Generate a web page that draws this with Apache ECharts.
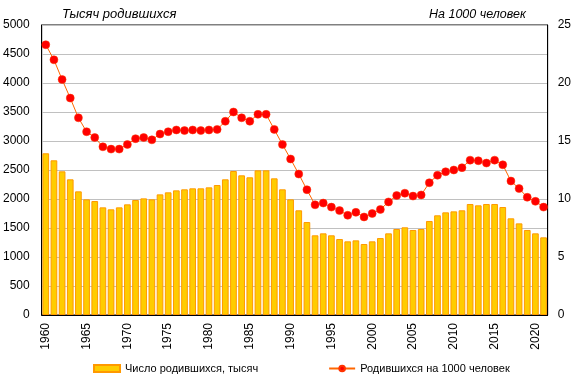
<!DOCTYPE html>
<html><head><meta charset="utf-8">
<script src="https://cdn.jsdelivr.net/npm/echarts@6/dist/echarts.min.js"></script>
<style>html,body{margin:0;padding:0;background:#fff}#c{width:574px;height:391px}</style>
</head><body><div id="c"></div>
<script>
var years = [];
for (var y = 1960; y <= 2021; y++) years.push(String(y));
var births = [2788,2667,2477,2339,2132,1994,1965,1856,1822,1856,
  1908,1983,2011,1994,2080,2115,2149,2167,2184,2184,
  2201,2241,2339,2483,2408,2374,2494,2494,2356,2167,
  1994,1805,1603,1374,1408,1374,1310,1270,1287,1224,
  1270,1327,1408,1483,1512,1466,1483,1621,1719,1770,
  1787,1805,1914,1891,1914,1914,1862,1667,1580,1466,
  1408,1339];
var rate = [23.3,22.0,20.3,18.7,17.0,15.8,15.3,14.5,14.3,14.3,
  14.7,15.2,15.3,15.1,15.6,15.8,15.95,15.9,15.95,15.9,
  15.95,16.0,16.7,17.5,17.0,16.7,17.3,17.3,16.0,14.7,
  13.45,12.15,10.8,9.5,9.65,9.3,9.0,8.6,8.85,8.45,
  8.75,9.1,9.75,10.3,10.5,10.25,10.35,11.4,12.05,12.35,
  12.5,12.7,13.35,13.3,13.1,13.35,12.95,11.55,10.9,10.15,
  9.8,9.3];
var leftTicks = [0,500,1000,1500,2000,2500,3000,3500,4000,4500,5000];
var rightTicks = [0,5,10,15,20,25];
var font = 'Arial, "Liberation Sans", sans-serif';
var chart = echarts.init(document.getElementById('c'), null, {renderer:'canvas'});
chart.setOption({
  animation:false,
  backgroundColor:'#fff',
  textStyle:{fontFamily:font},
  title:[
    {text:'Тысяч родившихся', left:57, top:3, textStyle:{fontSize:13, fontStyle:'italic', fontWeight:'normal', color:'#000', fontFamily:font}},
    {text:'На 1000 человек', left:424, top:3, textStyle:{fontSize:12.5, fontStyle:'italic', fontWeight:'normal', color:'#000', fontFamily:font}}
  ],
  grid:{left:40, right:26, top:25, bottom:76, show:true, borderColor:'#000', borderWidth:1, backgroundColor:'#fff'},
  legend:{
    left:88, top:358, itemWidth:26, itemHeight:7, itemGap:70,
    textStyle:{fontSize:11, color:'#000', fontFamily:font},
    data:[{name:'Число родившихся, тысяч', icon:'rect'},{name:'Родившихся на 1000 человек'}]
  },
  xAxis:{
    type:'category', data:years,
    axisLine:{lineStyle:{color:'#000', width:1}},
    axisTick:{show:false},
    axisLabel:{interval:4, rotate:90, margin:8, fontSize:12, color:'#000', fontFamily:font}
  },
  yAxis:[
    {type:'value', min:leftTicks[0], max:leftTicks[leftTicks.length-1], interval:500,
     axisLine:{show:true, lineStyle:{color:'#000'}}, axisTick:{show:false},
     axisLabel:{fontSize:12, color:'#000', margin:12, fontFamily:font, formatter:function(v){return String(v);}},
     splitLine:{lineStyle:{color:'#c0c0c0', width:1}}},
    {type:'value', min:rightTicks[0], max:rightTicks[rightTicks.length-1], interval:5, position:'right',
     axisLine:{show:true, lineStyle:{color:'#000'}}, axisTick:{show:false},
     axisLabel:{fontSize:12, color:'#000', margin:10, fontFamily:font},
     splitLine:{show:false}}
  ],
  series:[
    {name:'Число родившихся, тысяч', type:'bar', data:births, yAxisIndex:0,
     barCategoryGap:'18%',
     itemStyle:{color:'#FFCC00', borderColor:'#FF9900', borderWidth:1}},
    {name:'Родившихся на 1000 человек', type:'line', data:rate, yAxisIndex:1,
     symbol:'circle', symbolSize:8, showAllSymbol:true,
     lineStyle:{color:'#FF6600', width:1},
     itemStyle:{color:'#FF0000', borderColor:'#FF3300', borderWidth:0.5}}
  ]
});
</script></body></html>
